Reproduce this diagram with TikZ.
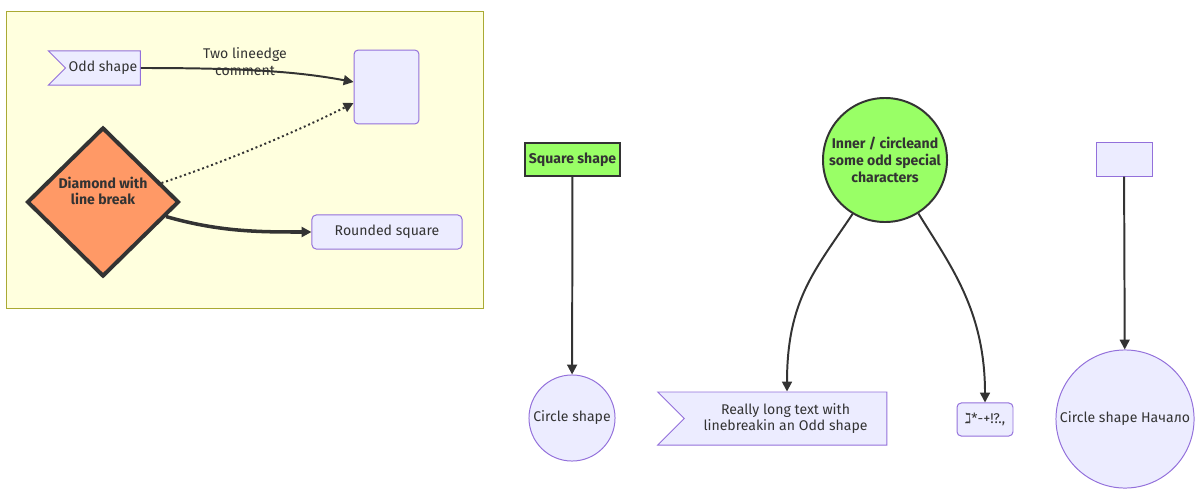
\documentclass[tikz,border=0pt]{standalone}
\usepackage{fontspec}
\setmainfont{Fira Sans}
\newfontfamily\symfont{DejaVu Sans}
\usepackage{xcolor}
\usepackage{tikz}
\usetikzlibrary{positioning,calc,arrows.meta,shapes.geometric,shapes.symbols}

\definecolor{nodefill}{HTML}{ECECFF}
\definecolor{nodeline}{HTML}{9370DB}
\definecolor{groupfill}{HTML}{FFFFDE}
\definecolor{groupline}{HTML}{AAAA33}
\definecolor{hotfill}{HTML}{FF9966}
\definecolor{greenfill}{HTML}{99FF66}
\definecolor{ink}{HTML}{333333}

\begin{document}
\begin{tikzpicture}[x=0.025cm, y=-0.025cm, font=\fontsize{10}{12}\selectfont, text=ink,
    plain/.style={draw=nodeline, fill=nodefill, line width=0.7pt, align=center, inner sep=2pt},
    rbox/.style={plain, rectangle, rounded corners=3pt},
    odd/.style={plain, signal, signal from=west, signal to=nowhere},
    roundnode/.style={plain, circle, inner sep=0pt},
    hot/.style={diamond, draw=ink, fill=hotfill, line width=2.8pt, align=center, font=\fontsize{10}{12}\selectfont\bfseries, inner sep=0pt},
    green/.style={draw=ink, fill=greenfill, line width=1.4pt, align=center, font=\fontsize{10}{12}\selectfont\bfseries},
    line/.style={draw=ink, line width=1.4pt, -{Triangle[length=7pt,width=7pt]}}]
        \useasboundingbox (0,0) rectangle (1200,500);

        % Subgraph
        \draw[fill=groupfill, draw=groupline, line width=0.7pt] (6,11) rectangle (483,308);

        % Nodes
        \node [odd, minimum width=65.4pt, minimum height=24.2pt] (odd) at (103,68) {Odd shape};
        \node [rbox, minimum width=46.2pt, minimum height=52.6pt] (box) at (386.5,87) {};
        \node [hot, minimum width=108pt, minimum height=106pt] (diam) at (103,202) {Diamond with\\line break\\[4pt]};
        \node [rbox, minimum width=106.7pt, minimum height=24.2pt] (round) at (387,232) {Rounded square};
        \node (comment) at (245,62) [align=center] {Two lineedge\\comment};

        \node [green, rectangle, minimum width=67.6pt, minimum height=23.5pt, inner sep=1pt] (square) at (572.5,159.5) {Square shape};
        \node [roundnode, minimum size=61.2pt] (circ) at (572,418) {Circle shape};
        \node [green, circle, minimum size=88.2pt, inner sep=0pt] (inner) at (885,160) {Inner / circleand\\some odd special\\characters};
        \node [odd, minimum width=162.9pt, minimum height=37.7pt] (longodd) at (785.5,418.5) {Really long text with\\linebreakin an Odd shape};
        \node [rbox, minimum width=39.8pt, minimum height=23.5pt] (special) at (985,419.5) {{\symfont ℷ}*-+!?.,};
        \node [plain, rectangle, minimum width=39.8pt, minimum height=23.5pt] (blank) at (1124,159.5) {};
        \node [roundnode, minimum size=98.2pt] (bigcirc) at (1125,419) {Circle shape Начало};

        % Arrows
        \path [line] (odd.east) .. controls (250,68) and (300,72) .. ($(box.west)+(0,-5)$);
        \path [line, dotted] (diam.18) .. controls (230,160) and (300,130) .. ($(box.west)+(0,16)$);
        \path [line, line width=2.5pt] (diam.-13) .. controls (220,232) and (260,232) .. (round.west);
        \path [line] (square) -- (circ);
        \path [line] (inner.239) .. controls (815,270) and (787,300) .. ($(longodd.north)+(1.5,0)$);
        \path [line] (inner.302) .. controls (950,265) and (985,310) .. (special.north);
        \path [line] (blank) -- (bigcirc);
    \end{tikzpicture}
\end{document}
